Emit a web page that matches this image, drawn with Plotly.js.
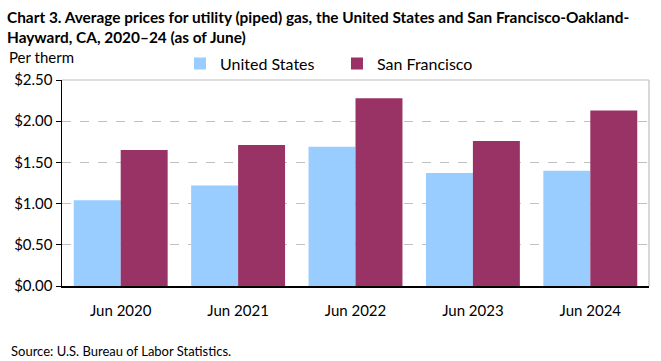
<!DOCTYPE html>
<html>
<head>
<meta charset="utf-8">
<script src="https://cdn.plot.ly/plotly-3.0.1.min.js"></script>
<style>
  html, body { margin: 0; padding: 0; background: #fff; }
  #chart { width: 661px; height: 361px; }
</style>
</head>
<body>
<div id="chart"></div>
<script>
const categories = ["Jun 2020", "Jun 2021", "Jun 2022", "Jun 2023", "Jun 2024"];
const unitedStates = [1.04, 1.22, 1.69, 1.37, 1.40];
const sanFrancisco = [1.65, 1.71, 2.28, 1.76, 2.13];
const yTickVals = [0, 0.5, 1.0, 1.5, 2.0, 2.5];
const yTickText = ["$0.00", "$0.50", "$1.00", "$1.50", "$2.00", "$2.50"];
const titleLine1 = "Chart 3. Average prices for utility (piped) gas, the United States and San Francisco-Oakland-";
const titleLine2 = "Hayward, CA, 2020–24 (as of June)";

const FONT = "Lato, 'Open Sans', sans-serif";

const traces = [
  {
    type: "bar", name: "United States", x: categories, y: unitedStates,
    marker: { color: "#99ccff" }, hoverinfo: "skip"
  },
  {
    type: "bar", name: "San Francisco", x: categories, y: sanFrancisco,
    marker: { color: "#993366" }, hoverinfo: "skip"
  }
];

const layout = {
  width: 661, height: 361,
  margin: { l: 62, r: 12, t: 80, b: 75 },
  paper_bgcolor: "#fff", plot_bgcolor: "#fff",
  font: { family: FONT, size: 15, color: "#000" },
  barmode: "group",
  bargap: 0.2,
  bargroupgap: 0,
  showlegend: true,
  legend: {
    orientation: "h",
    x: 0.201, xanchor: "left",
    y: 1.08, yanchor: "middle",
    font: { family: FONT, size: 16, color: "#000" },
    itemwidth: 30,
    entrywidth: 112,
    traceorder: "normal",
    bgcolor: "rgba(0,0,0,0)"
  },
  xaxis: {
    type: "category",
    showline: true, linecolor: "#000", linewidth: 1.5,
    ticks: "", showgrid: false,
    tickfont: { family: FONT, size: 15, color: "#000" },
    ticklabelstandoff: 10,
    fixedrange: true
  },
  yaxis: {
    range: [0, 2.5],
    tickvals: yTickVals, ticktext: yTickText,
    showline: true, linecolor: "#000", linewidth: 1.5,
    ticks: "outside", ticklen: 5, tickcolor: "#000", tickwidth: 1,
    showgrid: true, gridcolor: "#c0c0c0", griddash: "dash", gridwidth: 1,
    zeroline: false,
    tickfont: { family: FONT, size: 15, color: "#000" },
    fixedrange: true
  },
  shapes: [
    { type: "line", xref: "paper", yref: "paper", x0: 0, x1: 1, y0: 1, y1: 1,
      line: { color: "#bfbfbf", width: 1.2 }, layer: "above" },
    { type: "line", xref: "paper", yref: "paper", x0: 1, x1: 1, y0: 0, y1: 1,
      line: { color: "#bfbfbf", width: 1.2 }, layer: "above" }
  ],
  annotations: [
    { text: "<b>" + titleLine1 + "</b>", xref: "paper", yref: "paper", x: -0.097, y: 1.306,
      xanchor: "left", yanchor: "middle", showarrow: false,
      font: { family: FONT, size: 15.4, color: "#000" } },
    { text: "<b>" + titleLine2 + "</b>", xref: "paper", yref: "paper", x: -0.097, y: 1.209,
      xanchor: "left", yanchor: "middle", showarrow: false,
      font: { family: FONT, size: 15.4, color: "#000" } },
    { text: "Per therm", xref: "paper", yref: "paper", x: -0.093, y: 1.11,
      xanchor: "left", yanchor: "middle", showarrow: false,
      font: { family: FONT, size: 15, color: "#000" } },
    { text: "Source: U.S. Bureau of Labor Statistics.", xref: "paper", yref: "paper",
      x: -0.091, y: -0.315, xanchor: "left", yanchor: "middle", showarrow: false,
      font: { family: FONT, size: 13, color: "#000" } }
  ]
};

Plotly.newPlot("chart", traces, layout, { displayModeBar: false, staticPlot: true });
</script>
</body>
</html>
